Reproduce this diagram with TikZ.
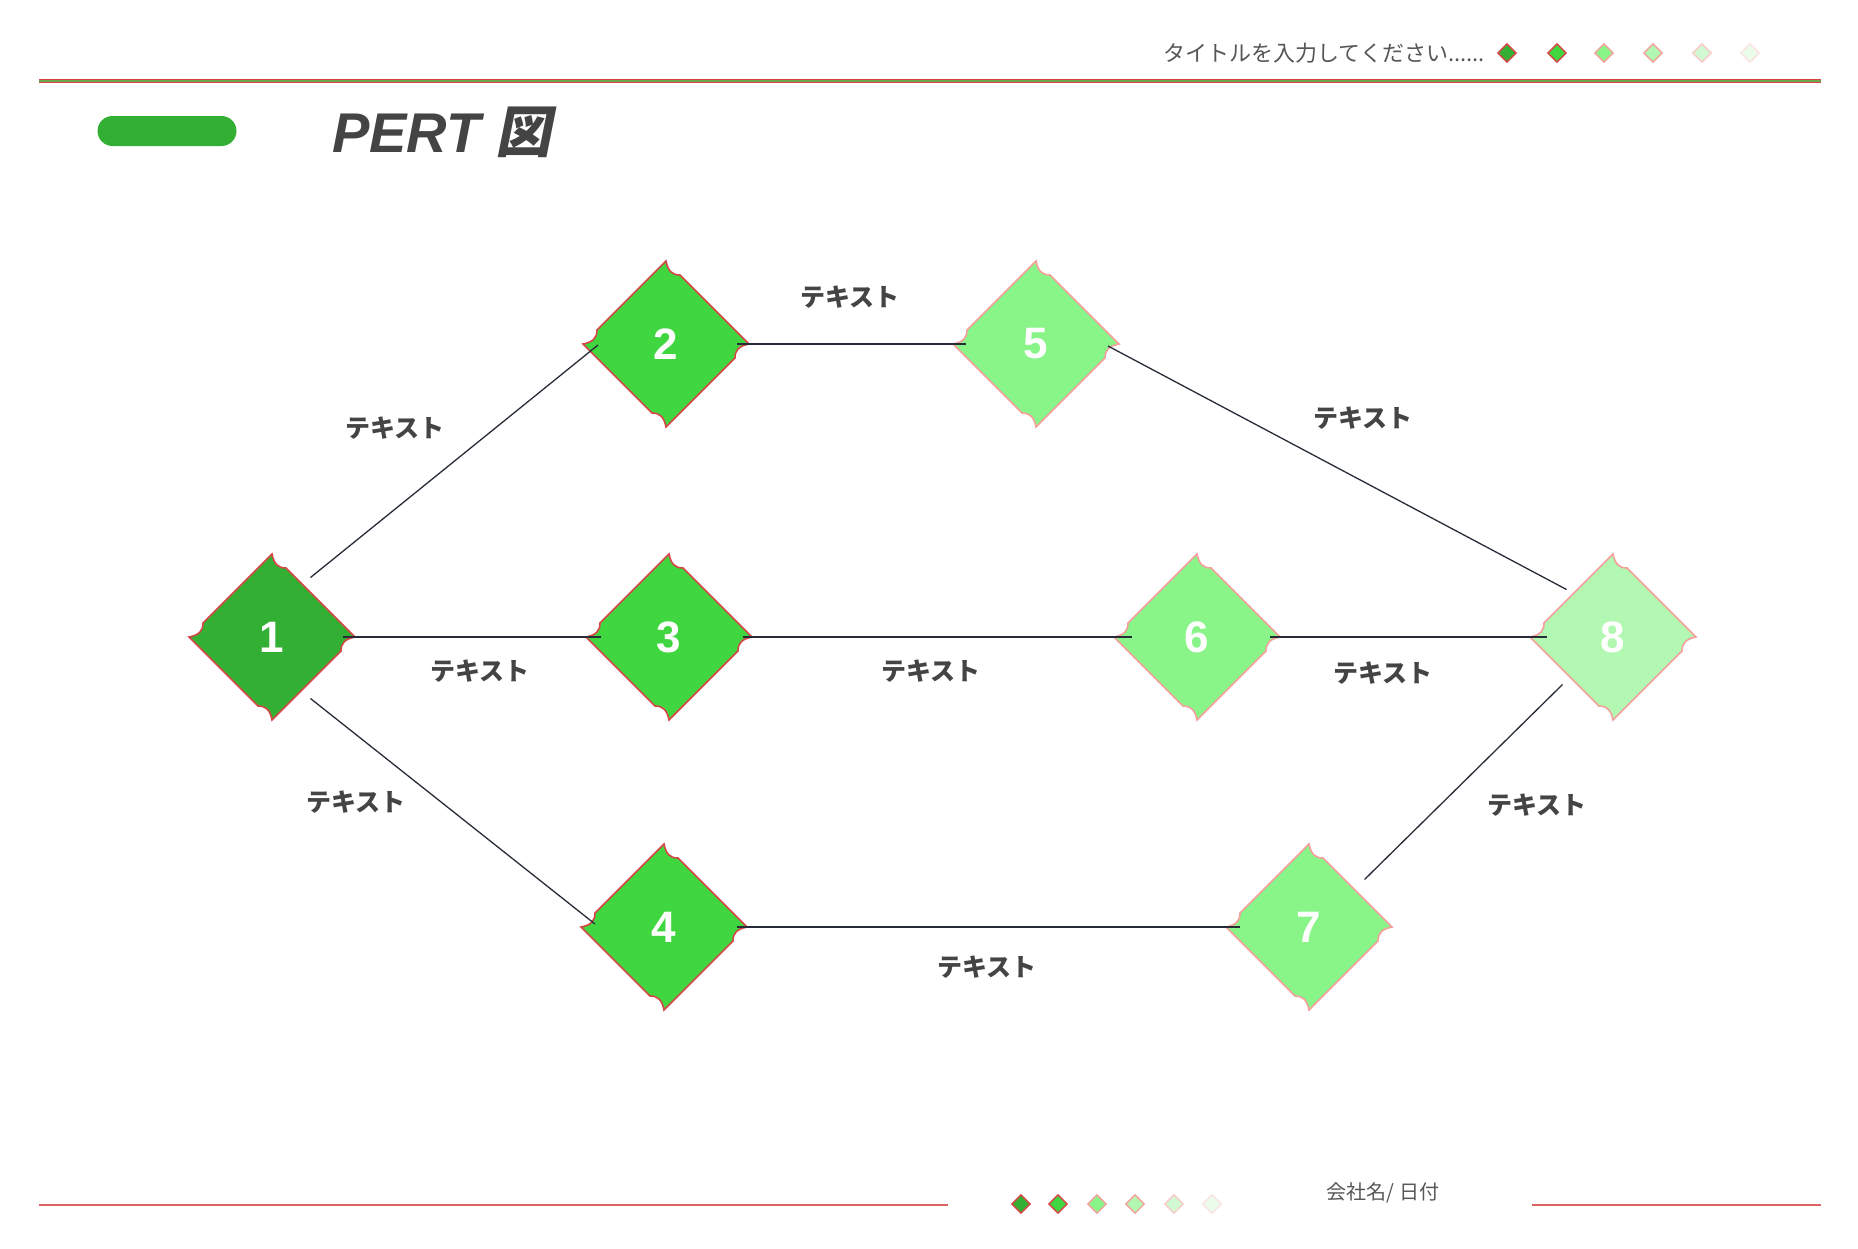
\documentclass[tikz,border=0pt]{standalone}
\usepackage{fontspec}
\usepackage{xcolor}
\usepackage{tikz}
\usetikzlibrary{shapes.geometric,calc}
\setmainfont{Liberation Sans}
\newfontfamily\jp{Noto Sans CJK JP}
\newfontfamily\jpslant[FakeSlant=0.2]{Noto Sans CJK JP}
\definecolor{gdark}{RGB}{51,176,51}
\definecolor{gmid}{RGB}{64,214,64}
\definecolor{glight}{RGB}{137,245,137}
\definecolor{gpale}{RGB}{178,248,178}
\definecolor{gfaint}{RGB}{210,250,210}
\definecolor{gghost}{RGB}{234,252,234}
\definecolor{rimred}{RGB}{215,70,70}
\definecolor{rimpink}{RGB}{245,160,155}
\definecolor{rimsoft}{RGB}{250,200,200}
\definecolor{rimghost}{RGB}{252,226,226}
\definecolor{inkgray}{RGB}{68,68,68}
\definecolor{wire}{RGB}{38,44,56}
\definecolor{rulegreen}{RGB}{110,165,80}
% notched diamond behind an event node: number, centre, fill, rim
\newcommand{\pertevent}[4]{%
  \filldraw[fill=#3,draw=#4,line width=0.8pt,shift={(#2)}]
    (0,-83) .. controls (2,-73) and (6,-69) .. (14,-69) -- (83,0)
    .. controls (73,2) and (69,6) .. (69,14) -- (0,83)
    .. controls (-2,73) and (-6,69) .. (-14,69) -- (-83,0)
    .. controls (-73,-2) and (-69,-6) .. (-69,-14) -- cycle;
  \node[event] (e#1) at (#2) {#1};}

\begin{document}
\begin{tikzpicture}[x=0.5pt,y=-0.5pt,
    event/.style={shape=diamond,minimum size=83pt,inner sep=0pt,outer sep=0pt,
                  text=white,font=\bfseries\fontsize{22}{25}\selectfont},
    tag/.style={text=inkgray,font=\jp\bfseries\fontsize{12.5}{14}\selectfont},
    wirepath/.style={wire,line width=0.65pt},
    mini/.style={shape=diamond,minimum size=9.5pt,inner sep=0pt,line width=0.7pt}]
    \useasboundingbox[fill=white] (0,0) rectangle (1858,1248);

    % header
    \draw[rimred,line width=2.2pt] (39,81) -- (1821,81);
    \draw[rulegreen,line width=1.1pt] (39,81) -- (1821,81);
    \node[text=inkgray!90,font=\jp\fontsize{11}{13}\selectfont,anchor=east]
      (doctitle) at (1492,53) {タイトルを入力してください......};
    \node[mini,fill=gdark,draw=rimred]    (h1) at (1507,53) {};
    \node[mini,fill=gmid,draw=rimred]     (h2) at (1557,53) {};
    \node[mini,fill=glight,draw=rimpink]  (h3) at (1604,53) {};
    \node[mini,fill=gpale,draw=rimpink]   (h4) at (1653,53) {};
    \node[mini,fill=gfaint,draw=rimsoft]  (h5) at (1702,53) {};
    \node[mini,fill=gghost,draw=rimghost] (h6) at (1750,53) {};

    \node[fill=gdark,minimum width=69.5pt,minimum height=15pt,rounded corners=7.5pt]
      (badge) at (167,131) {};
    \node[anchor=base west,text=inkgray,font=\bfseries\itshape\fontsize{28}{32}\selectfont]
      (title) at (325,152) {PERT {\jpslant\bfseries 図}};

    % events
    \pertevent{1}{272,637}{gdark}{rimred}
    \pertevent{2}{666,344}{gmid}{rimred}
    \pertevent{3}{669,637}{gmid}{rimred}
    \pertevent{4}{664,927}{gmid}{rimred}
    \pertevent{5}{1036,344}{glight}{rimpink}
    \pertevent{6}{1197,637}{glight}{rimpink}
    \pertevent{7}{1309,927}{glight}{rimpink}
    \pertevent{8}{1613,637}{gpale}{rimpink}

    % activities
    \draw[wirepath] ($(e1.north east)+(-3,-18)$) -- ($(e2.west)+(15,1)$);
    \draw[wirepath] ($(e1.east)+(-12,0)$) -- ($(e3.west)+(15,0)$);
    \draw[wirepath] ($(e1.south east)+(-3,20)$) -- ($(e4.west)+(14,-3)$);
    \draw[wirepath] ($(e2.east)+(-12,0)$) -- ($(e5.west)+(13,0)$);
    \draw[wirepath] ($(e3.east)+(-9,0)$) -- ($(e6.west)+(18,0)$);
    \draw[wirepath] ($(e4.east)+(-10,0)$) -- ($(e7.west)+(14,0)$);
    \draw[wirepath] ($(e5.east)+(-11,2)$) -- ($(e8.north west)+(-5,-6)$);
    \draw[wirepath] ($(e6.east)+(-10,0)$) -- ($(e8.west)+(17,0)$);
    \draw[wirepath] ($(e7.north east)+(14,-6)$) -- ($(e8.south west)+(-9,6)$);

    \node[tag] (t12) at (395,428) {テキスト};
    \node[tag] (t13) at (480,671) {テキスト};
    \node[tag] (t14) at (356,802) {テキスト};
    \node[tag] (t25) at (850,297) {テキスト};
    \node[tag] (t36) at (931,671) {テキスト};
    \node[tag] (t47) at (987,967) {テキスト};
    \node[tag] (t58) at (1363,418) {テキスト};
    \node[tag] (t68) at (1383,673) {テキスト};
    \node[tag] (t78) at (1537,805) {テキスト};

    % footer
    \draw[rimred!85,line width=0.6pt] (39,1205) -- (948,1205);
    \draw[rimred!85,line width=0.6pt] (1532,1205) -- (1821,1205);
    \node[mini,fill=gdark,draw=rimred]    (f1) at (1021,1204) {};
    \node[mini,fill=gmid,draw=rimred]     (f2) at (1058,1204) {};
    \node[mini,fill=glight,draw=rimpink]  (f3) at (1097,1204) {};
    \node[mini,fill=gpale,draw=rimpink]   (f4) at (1135,1204) {};
    \node[mini,fill=gfaint,draw=rimsoft]  (f5) at (1174,1204) {};
    \node[mini,fill=gghost,draw=rimghost] (f6) at (1212,1204) {};
    \node[text=inkgray!90,font=\jp\fontsize{10}{12}\selectfont]
      (company) at (1383,1193) {会社名/ 日付};
  \end{tikzpicture}
\end{document}
